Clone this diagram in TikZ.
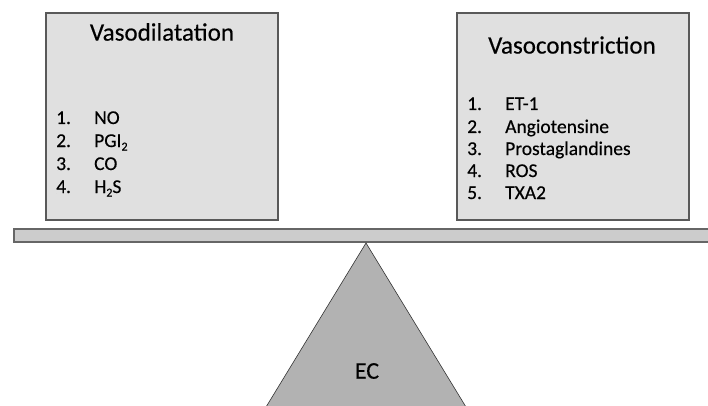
\documentclass[tikz,border=0pt]{standalone}
\usepackage{fontspec}
\setmainfont{Carlito}[FakeBold=0.4]
\newcommand{\lowsub}[1]{\raisebox{-3.5pt}{\fontsize{12}{12}\selectfont #1}}
\begin{document}
\begin{tikzpicture}[x=1pt,y=-1pt,
  panel/.style={draw=black!65,line width=1.2pt,fill=black!12},
  titletext/.style={font=\fontsize{25}{30}\selectfont,anchor=center},
  itemtext/.style={font=\fontsize{19.5}{23}\selectfont,anchor=base west,inner sep=0pt},
  beamstyle/.style={draw=black!60,line width=1.2pt,fill=black!20},
  fulcrum/.style={draw=black!80,line width=0.6pt,fill=black!30}]
\useasboundingbox (0,0) rectangle (708,406);
\begin{scope}
\clip (0,0) rectangle (708,406);
% boxes
\draw[panel] (46,13) rectangle (278,220);
\draw[panel] (457,13) rectangle (689,220);
% beam
\draw[beamstyle] (14,229) rectangle (712,242);
% fulcrum
\draw[fulcrum] (366,243) -- (252,430) -- (480,430) -- cycle;
\end{scope}
\node[titletext] (t1) at (162,32) {Vasodilatation};
\node[titletext] (t2) at (572,45) {Vasoconstriction};
% left list
\foreach \n/\txt/\y in {1/NO/124, 2/PGI\lowsub{2}/147, 3/CO/170, 4/H\lowsub{2}S/193}{
  \node[itemtext] (ln\n) at (56,\y) {\n.};
  \node[itemtext] (li\n) at (94,\y) {\txt};
}
% right list
\foreach \n/\txt/\y in {1/ET-1/110, 2/Angiotensine/133, 3/Prostaglandines/155, 4/ROS/177, 5/TXA2/199}{
  \node[itemtext] (rn\n) at (467,\y) {\n.};
  \node[itemtext] (ri\n) at (505,\y) {\txt};
}
\node[font=\fontsize{24}{28}\selectfont] (ec) at (367,371) {EC};
\end{tikzpicture}
\end{document}
